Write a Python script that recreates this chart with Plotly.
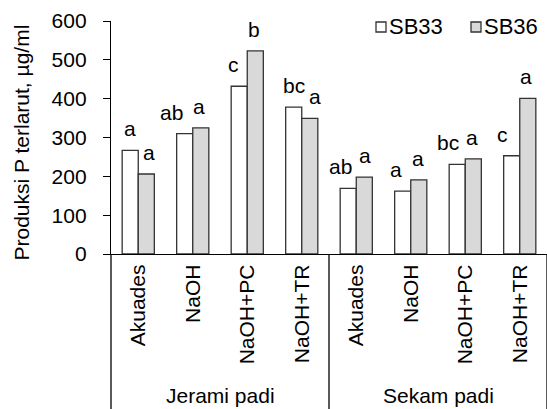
import plotly.graph_objects as go

# ---- data ----
treatments = ["Akuades", "NaOH", "NaOH+PC", "NaOH+TR",
              "Akuades", "NaOH", "NaOH+PC", "NaOH+TR"]
groups = ["Jerami padi", "Sekam padi"]
sb33 = [267, 310, 432, 378, 169, 162, 231, 253]
sb36 = [206, 325, 523, 349, 198, 191, 245, 401]
sb33_letters = ["a", "ab", "c", "bc", "ab", "a", "bc", "c"]
sb36_letters = ["a", "a", "b", "a", "a", "a", "a", "a"]
y_ticks = [0, 100, 200, 300, 400, 500, 600]

# ---- layout / style ----
W, H = 547, 409
ML, MR, MT, MB = 111, 0, 21, 155
PW, PH = W - ML - MR, H - MT - MB
FONT = "Liberation Sans, Arial, sans-serif"
FS = 21
BARGAP = 0.41
nudge33 = [0, -13, -6, 0, -8, -7, -9, -9]   # horizontal label nudges (px)
nudge36 = [3, -2, -1, 5, 1, -1, -1, -2]

def px(x):
    return (x - ML) / PW

def py(y):
    return (H - MB - y) / PH

xs = list(range(len(treatments)))
fig = go.Figure()
fig.add_trace(go.Bar(x=xs, y=sb33, name="SB33",
                     marker=dict(color="white", line=dict(color="#333", width=1.3)), showlegend=False))
fig.add_trace(go.Bar(x=xs, y=sb36, name="SB36",
                     marker=dict(color="#d9d9d9", line=dict(color="#333", width=1.3)), showlegend=False))

off = (1 - BARGAP) / 4
tf = dict(size=FS, color="black", family=FONT)
ann = []
for i in xs:
    ann.append(dict(x=i - off, y=sb33[i], text=sb33_letters[i], showarrow=False,
                    yanchor="bottom", yshift=8, xshift=nudge33[i], font=tf))
    ann.append(dict(x=i + off, y=sb36[i], text=sb36_letters[i], showarrow=False,
                    yanchor="bottom", yshift=8, xshift=nudge36[i], font=tf))

# group labels
n = len(treatments)
for gi, g in enumerate(groups):
    ann.append(dict(xref="paper", yref="paper", x=(gi + 0.5) / len(groups), y=py(395), text=g,
                    showarrow=False, xanchor="center", yanchor="middle", font=tf))

# y title
ann.append(dict(xref="paper", yref="paper", x=px(21), y=py(142.5), text="Produksi P terlarut, µg/ml",
                textangle=-90, showarrow=False, xanchor="center", yanchor="middle",
                font=dict(size=21, color="black", family=FONT)))

# legend (manual)
shapes = []
for (sx, tx, name, col) in [(376, 387, "SB33", "white"), (471, 482, "SB36", "#d9d9d9")]:
    shapes.append(dict(type="rect", xref="paper", yref="paper", x0=px(sx), x1=px(sx + 10),
                       y0=py(32), y1=py(22), fillcolor=col, line=dict(color="#333", width=1.3)))
    ann.append(dict(xref="paper", yref="paper", x=px(tx), y=py(27), text=name, showarrow=False,
                    xanchor="left", yanchor="middle", font=dict(size=22, color="black", family=FONT)))

# group dividers
for fx in [0, 0.5, 1.0]:
    shapes.append(dict(type="line", xref="paper", yref="paper", x0=fx, x1=fx, y0=0, y1=py(H + 5),
                       line=dict(color="black", width=1.3)))

fig.update_layout(
    width=W, height=H, margin=dict(l=ML, r=MR, t=MT, b=MB),
    paper_bgcolor="white", plot_bgcolor="white",
    barmode="group", bargap=BARGAP, bargroupgap=0,
    font=dict(family=FONT, size=FS, color="black"),
    annotations=ann, shapes=shapes,
    xaxis=dict(range=[-0.5, n - 0.5], tickmode="array", tickvals=xs, ticktext=treatments,
               tickangle=-90, ticks="", showline=True, linecolor="black", linewidth=1.3,
               showgrid=False, zeroline=False, ticklabelstandoff=1, tickfont=tf),
    yaxis=dict(range=[0, 600], tickmode="array", tickvals=y_ticks, ticks="outside", ticklen=7,
               tickwidth=1.3, tickcolor="black", showline=True, linecolor="black", linewidth=1.3,
               showgrid=False, zeroline=False, ticklabelstandoff=12, tickfont=tf),
)
fig.write_html("out.html", config={"displayModeBar": False},
               post_script="document.body.style.margin='0';document.body.style.overflow='hidden';")
